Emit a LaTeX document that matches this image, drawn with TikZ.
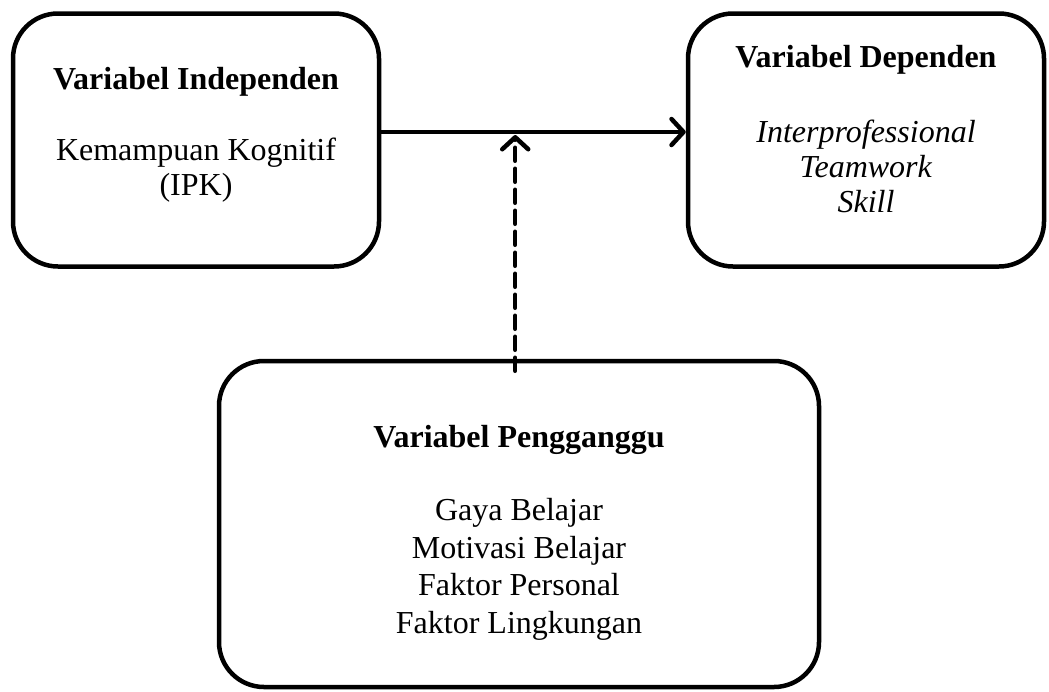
\documentclass[tikz,border=0pt]{standalone}
\usepackage{fontspec}
\setmainfont{Liberation Serif}
\usetikzlibrary{positioning,arrows.meta}

\begin{document}
\begin{tikzpicture}[x=1pt, y=-1pt, line width=4.5pt,
        varbox/.style={rectangle, draw, rounded corners=45pt, inner sep=0pt},
        vartext/.style={align=center, inner sep=0pt, font=\fontsize{32}{35}\selectfont},
        openarrow/.style={-{Straight Barb[length=12pt, width=26pt, line cap=round, line join=round]}, line cap=round}]
        \useasboundingbox (0,0) rectangle (1049,691);

        % Nodes
        \node (indep) [varbox, minimum width=366pt, minimum height=253pt] at (196,140) {};
        \node (dep) [varbox, minimum width=356pt, minimum height=253pt] at (866,140) {};
        \node (ganggu) [varbox, minimum width=600pt, minimum height=326pt] at (519,524) {};

        \node (indeptext) [vartext, below=54pt of indep.north] {\textbf{Variabel Independen}\\[36pt] Kemampuan Kognitif\\ (IPK)};
        \node (deptext) [vartext, below=32pt of dep.north] {\textbf{Variabel Dependen}\\[40pt] \textit{Interprofessional}\\ \textit{Teamwork}\\ \textit{Skill}};
        \node (gangtext) [vartext, below=64pt of ganggu.north, font=\fontsize{32}{37.5}\selectfont] {\textbf{Variabel Pengganggu}\\[36pt] Gaya Belajar\\ Motivasi Belajar\\ Faktor Personal\\ Faktor Lingkungan};

        % Edges
        \draw[openarrow] ([yshift=8pt]indep.east) -- coordinate[pos=0.44] (join) ([yshift=8pt]dep.west);
        \draw[openarrow, dash pattern=on 13pt off 8pt] ([yshift=-12pt]ganggu.north -| join) -- ([yshift=-3pt]join);
\end{tikzpicture}
\end{document}
